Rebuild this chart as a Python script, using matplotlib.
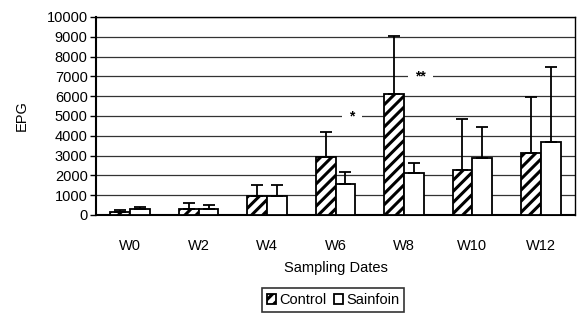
import numpy as np
import matplotlib
matplotlib.use('Agg')
import matplotlib.pyplot as plt

plt.rcParams['font.family'] = ['Liberation Sans', 'DejaVu Sans']
plt.rcParams['hatch.linewidth'] = 2.2

# data
weeks = ['W0', 'W2', 'W4', 'W6', 'W8', 'W10', 'W12']
control = [150, 300, 950, 2930, 6110, 2290, 3110]
control_err = [100, 300, 550, 1250, 2910, 2540, 2850]
sainfoin = [300, 300, 950, 1580, 2140, 2900, 3700]
sainfoin_err = [100, 200, 550, 610, 490, 1560, 3760]
stars = {'W6': '*', 'W8': '**'}
star_levels = {'W6': 5000, 'W8': 7000}

fs = 10.5

fig = plt.figure(figsize=(5.77, 3.14), dpi=100)
ax = fig.add_axes([96/577, 1 - 215/314, (575-96)/577, 198/314])

x = np.arange(len(weeks))
w = 0.29
ax.bar(x - w/2, control, w, color='white', edgecolor='black', hatch='///',
       linewidth=1.3, label='Control', zorder=3)
ax.bar(x + w/2, sainfoin, w, color='white', edgecolor='black',
       linewidth=1.3, label='Sainfoin', zorder=3)
# upper error bars only
ax.errorbar(x - w/2, control, yerr=[np.zeros(len(x)), control_err], fmt='none',
            ecolor='black', elinewidth=1.3, capsize=4, capthick=1.3, zorder=4)
ax.errorbar(x + w/2, sainfoin, yerr=[np.zeros(len(x)), sainfoin_err], fmt='none',
            ecolor='black', elinewidth=1.3, capsize=4, capthick=1.3, zorder=4)

# significance marks
for k, s in stars.items():
    i = weeks.index(k)
    ax.text(i + 0.24, star_levels[k], s, ha='center', va='center', fontsize=10,
            fontweight='bold', zorder=5,
            bbox=dict(facecolor='white', edgecolor='none', pad=5))

ax.set_ylim(0, 10000)
ax.set_xlim(-0.5, len(weeks) - 0.5)
ax.set_yticks(np.arange(0, 10001, 1000))
ax.yaxis.grid(True, color='#333333', linewidth=0.9)
ax.set_axisbelow(True)
ax.set_xticks(x)
ax.set_xticklabels(weeks)
ax.tick_params(axis='x', length=0, labelsize=fs, pad=17)
ax.tick_params(axis='y', length=4, width=1, labelsize=fs, pad=2)
for sp in ax.spines.values():
    sp.set_linewidth(1)
ax.spines['left'].set_linewidth(1.5)
ax.spines['bottom'].set_linewidth(1.5)

ax.set_ylabel('EPG', fontsize=fs, labelpad=13)
ax.set_xlabel('Sampling Dates', fontsize=fs, labelpad=6)

leg = ax.legend(loc='upper center', bbox_to_anchor=(0.495, -0.369), ncol=2,
                frameon=True, fancybox=False, edgecolor='black', fontsize=fs,
                handlelength=0.65, handleheight=0.65, handletextpad=0.2,
                columnspacing=0.5, borderpad=0.35, borderaxespad=0)
leg.get_frame().set_linewidth(1.2)

fig.savefig('out.png', dpi=100)
